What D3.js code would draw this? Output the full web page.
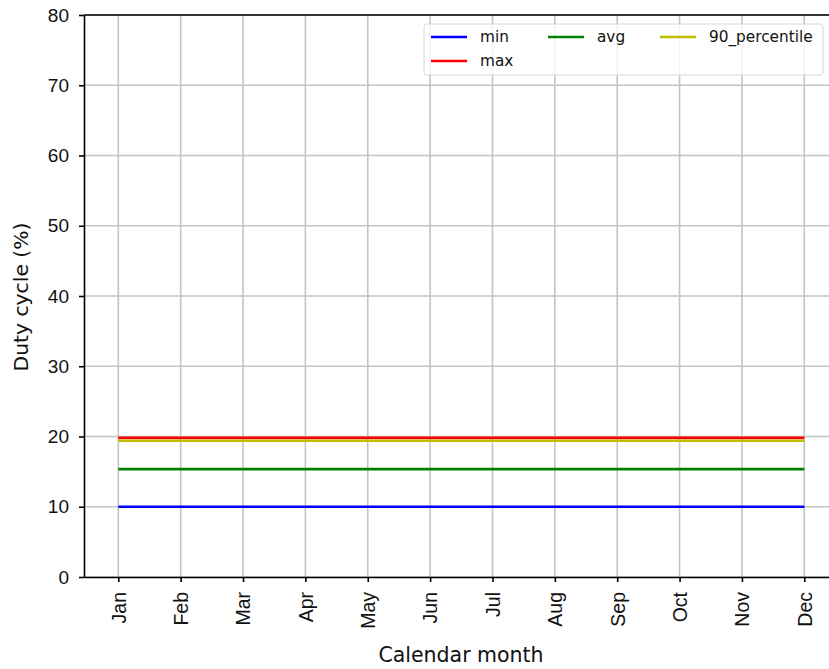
<!DOCTYPE html>
<html>
<head>
<meta charset="utf-8">
<script src="https://cdn.jsdelivr.net/npm/d3@7"></script>
<style>
  html, body { margin: 0; padding: 0; background: #fff; overflow: hidden; }
  svg { display: block; font-family: "DejaVu Sans", sans-serif; }
</style>
</head>
<body>
<svg id="chart" width="829" height="669"></svg>
<script>
// Monthly duty cycle statistics
const months = ["Jan", "Feb", "Mar", "Apr", "May", "Jun", "Jul", "Aug", "Sep", "Oct", "Nov", "Dec"];
const minValues = [10.0, 10.0, 10.0, 10.0, 10.0, 10.0, 10.0, 10.0, 10.0, 10.0, 10.0, 10.0];
const maxValues = [19.8, 19.8, 19.8, 19.8, 19.8, 19.8, 19.8, 19.8, 19.8, 19.8, 19.8, 19.8];
const avgValues = [15.35, 15.35, 15.35, 15.35, 15.35, 15.35, 15.35, 15.35, 15.35, 15.35, 15.35, 15.35];
const p90Values = [19.4, 19.4, 19.4, 19.4, 19.4, 19.4, 19.4, 19.4, 19.4, 19.4, 19.4, 19.4];
const yTicks = [0, 10, 20, 30, 40, 50, 60, 70, 80];

const series = [
  { name: "min", values: minValues, color: "#0000ff" },
  { name: "max", values: maxValues, color: "#ff0000" },
  { name: "avg", values: avgValues, color: "#008000" },
  { name: "90_percentile", values: p90Values, color: "#bfbf00" }
];
const drawOrder = ["min", "avg", "max", "90_percentile"];

const svg = d3.select("#chart");
const m = { left: 84, top: 15, right: 838.6, bottom: 577 };

const x = d3.scaleLinear().domain([-0.55, months.length - 1 + 0.55]).range([m.left, m.right]);
const y = d3.scaleLinear().domain([0, 80]).range([m.bottom, m.top]);

// grid
const grid = svg.append("g");
grid.selectAll("line.vx").data(months).enter().append("line")
  .attr("x1", (d, i) => x(i)).attr("x2", (d, i) => x(i))
  .attr("y1", m.top).attr("y2", m.bottom)
  .attr("stroke", "#c4c4c4").attr("stroke-width", 1.6);
grid.selectAll("line.hy").data(yTicks).enter().append("line")
  .attr("x1", m.left).attr("x2", m.right)
  .attr("y1", d => y(d)).attr("y2", d => y(d))
  .attr("stroke", "#c4c4c4").attr("stroke-width", 1.6);

// series lines
const line = d3.line().x((d, i) => x(i)).y(d => y(d));
drawOrder.forEach(n => {
  const s = series.find(t => t.name === n);
  svg.append("path").datum(s.values)
    .attr("d", line).attr("fill", "none")
    .attr("stroke", s.color).attr("stroke-width", 2.6);
});

// axes
const xAxis = d3.axisBottom(x).tickValues(d3.range(months.length))
  .tickFormat(i => months[i]).tickSize(5).tickSizeOuter(0);
const gx = svg.append("g").attr("transform", `translate(0,${m.bottom})`).call(xAxis);
gx.select(".domain").attr("stroke", "#000").attr("stroke-width", 1.6);
gx.selectAll(".tick line").attr("stroke", "#000").attr("stroke-width", 1.6);
gx.selectAll(".tick text")
  .attr("font-size", 19.5).attr("fill", "#111")
  .attr("transform", "rotate(-90)")
  .attr("x", -15).attr("y", 0).attr("dy", "0.35em")
  .attr("text-anchor", "end");

const yAxis = d3.axisLeft(y).tickValues(yTicks).tickSize(5).tickSizeOuter(0);
const gy = svg.append("g").attr("transform", `translate(${m.left},0)`).call(yAxis);
gy.select(".domain").attr("stroke", "#000").attr("stroke-width", 1.6);
gy.selectAll(".tick line").attr("stroke", "#000").attr("stroke-width", 1.6);
gy.selectAll(".tick text").attr("font-size", 19).attr("fill", "#111").attr("x", -15);

// top spine
svg.append("line").attr("x1", m.left).attr("x2", m.right)
  .attr("y1", m.top).attr("y2", m.top)
  .attr("stroke", "#000").attr("stroke-width", 1.6);

// axis labels
svg.append("text").attr("x", 461).attr("y", 662)
  .attr("text-anchor", "middle").attr("font-size", 20.5).attr("fill", "#111")
  .text("Calendar month");
svg.append("text").attr("transform", "translate(28,297) rotate(-90)")
  .attr("text-anchor", "middle").attr("font-size", 20.3).attr("fill", "#111")
  .text("Duty cycle (%)");

// legend
const lg = svg.append("g");
lg.append("rect").attr("x", 424).attr("y", 24).attr("width", 399).attr("height", 51)
  .attr("rx", 3).attr("fill", "#fff").attr("fill-opacity", 0.8)
  .attr("stroke", "#d6d6d6").attr("stroke-width", 1);
const cols = [431, 548, 660];
series.forEach((s, i) => {
  const col = i <= 1 ? 0 : i - 1;
  const row = i === 1 ? 1 : 0;
  const lx = cols[col], ly = 37 + row * 24;
  lg.append("line").attr("x1", lx).attr("x2", lx + 36).attr("y1", ly).attr("y2", ly)
    .attr("stroke", s.color).attr("stroke-width", 2.6);
  lg.append("text").attr("x", lx + 49).attr("y", ly).attr("dy", "0.35em")
    .attr("font-size", 15.3).attr("fill", "#111").text(s.name);
});
</script>
</body>
</html>
